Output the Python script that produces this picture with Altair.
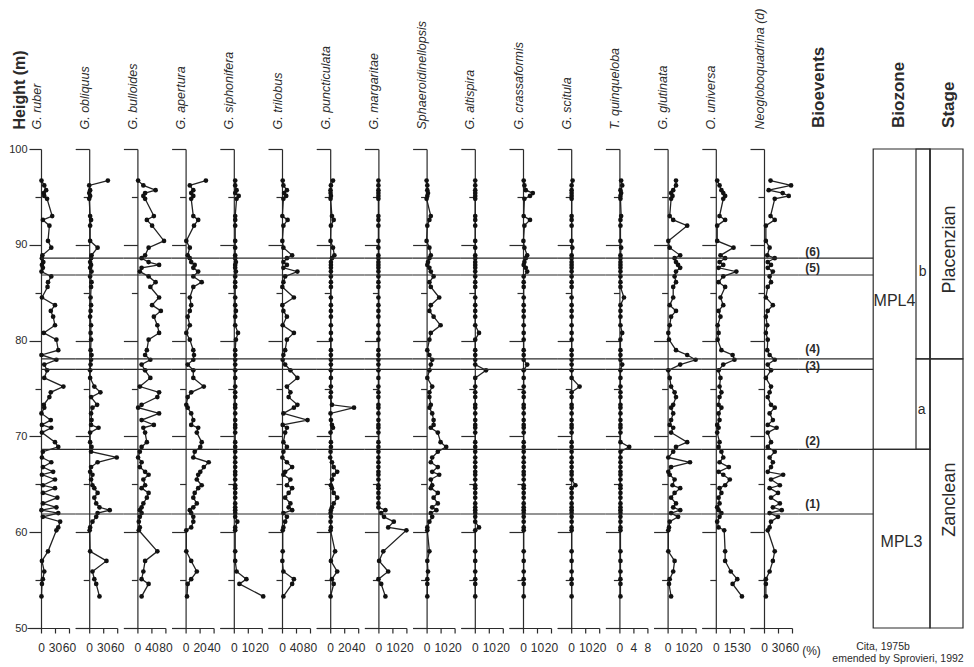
import altair as alt
import pandas as pd

# ---------------- data ----------------
HEIGHTS = [96.7, 96.2, 95.7, 95.4, 95.1, 94.8, 93.0, 92.6, 92.0, 90.4,
           89.7, 88.9, 88.6, 88.2, 87.9, 87.6, 87.2, 86.7, 86.1, 85.6,
           84.5, 83.7, 83.1, 82.5, 81.6, 80.8, 80.1, 79.0, 78.5, 78.0,
           77.5, 76.9, 76.1, 75.2, 74.6, 74.1, 73.3, 73.0, 72.4, 71.7,
           71.2, 70.9, 70.4, 69.4, 68.9, 68.4, 67.8, 67.3, 66.8, 66.3,
           66.0, 65.5, 64.9, 64.6, 64.1, 63.6, 63.0, 62.6, 62.3, 62.0,
           61.6, 61.1, 60.5, 60.2, 58.0, 57.0, 55.9, 55.1, 54.6, 53.3]

RUBER = [1, 7, 11, 6, 7, 13, 24, 4, 18, 15,
         22, 3, 2, 5, 2, 4, 1, 22, 15, 14,
         2, 30, 21, 26, 30, 6, 33, 37, 1, 33,
         7, 13, 7, 48, 21, 18, 6, 7, 1, 21,
         2, 22, 2, 30, 37, 4, 2, 22, 4, 26,
         2, 30, 4, 30, 4, 35, 4, 33, 1, 37,
         4, 41, 37, 33, 15, 2, 7, 4, 2, 1]
OBLIQUUS = [40, 0, 2, 0, 2, 0, 2, 4, 2, 2,
            18, 5, 4, 2, 4, 2, 5, 2, 5, 4,
            3, 4, 3, 2, 4, 3, 4, 3, 5, 4,
            3, 2, 2, 11, 24, 4, 17, 7, 4, 5,
            4, 20, 2, 2, 5, 4, 59, 18, 4, 2,
            7, 4, 7, 11, 18, 11, 15, 22, 44, 18,
            15, 7, 2, 1, 2, 37, 7, 11, 15, 22]
BULLOIDES = [2, 17, 52, 22, 17, 22, 47, 27, 42, 76,
             32, 22, 12, 32, 62, 12, 7, 32, 52, 37,
             62, 42, 67, 47, 57, 62, 32, 27, 22, 37,
             12, 22, 37, 7, 62, 57, 12, 2, 62, 12,
             47, 17, 22, 27, 12, 7, 2, 12, 7, 22,
             32, 17, 22, 12, 32, 27, 17, 12, 7, 12,
             7, 4, 7, 4, 57, 22, 17, 12, 32, 12]
APERTURA = [29, 6, 11, 8, 11, 8, 11, 18, 12, 1,
            6, 3, 6, 8, 13, 11, 18, 11, 23, 11,
            6, 8, 6, 3, 6, 1, 6, 11, 12, 11,
            3, 11, 11, 26, 8, 3, 1, 3, 8, 11,
            8, 18, 16, 23, 21, 13, 11, 33, 26, 21,
            18, 16, 23, 18, 13, 11, 16, 11, 6, 8,
            11, 11, 8, 1, 1, 8, 16, 8, 3, 2]
SIPHONIFERA = [1, 1, 2, 1, 3.5, 2, 1, 1, 1, 1,
               1, 1, 1, 1.5, 1, 1, 1.5, 1, 1, 1,
               1, 1, 1.5, 1, 1, 3, 1.5, 1, 1, 1,
               1, 1, 1, 1, 1, 1, 1, 1, 1, 1,
               1, 1, 1, 1, 1, 1, 1, 1, 1, 1,
               1, 1, 1, 1, 1, 1, 1, 1, 1, 1,
               1, 2.5, 1, 1, 1, 1, 2, 9, 4, 21]
TRILOBUS = [2, 4, 14, 6, 12, 4, 1, 16, 4, 1,
            4, 29, 14, 4, 14, 4, 44, 9, 4, 1,
            34, 1, 4, 14, 2, 34, 14, 9, 4, 2,
            9, 24, 44, 14, 24, 19, 44, 34, 4, 73,
            2, 14, 9, 4, 14, 4, 1, 14, 29, 9,
            4, 24, 14, 29, 19, 9, 24, 19, 29, 4,
            14, 9, 4, 2, 2, 1, 4, 34, 29, 4]
PUNCTICULATA = [4, 1, 0.5, 0.5, 1, 0.5, 2.5, 5, 1, 0.5,
                4, 6, 2.5, 1, 1, 1, 1, 1, 1, 1,
                1, 1, 1, 1, 1, 1, 1, 1, 1, 1,
                1, 1, 1, 1, 1, 0.5, 2.5, 34, 0.5, 1,
                2.5, 4, 0.5, 1, 1, 0.5, 0, 2.5, 5, 10,
                5, 2.5, 1, 2.5, 5, 10, 5, 2.5, 1, 0.5,
                1, 0.5, 1, 0.5, 7, 1, 10, 2.5, 5, 0.5]
MARGARITAE = [0, 0, 0, 0, 0, 0, 0, 0, 0, 0,
              0, 0, 0, 0, 0, 0, 0, 0, 0, 0,
              0, 0, 0, 0, 0, 0, 0, 0, 0, 0,
              0, 0, 0, 0, 0, 0, 0, 0, 0, 0,
              0, 0, 0, 0, 0, 0, 0, 0, 0, 0,
              0, 0, 0, 0, 0, 0, 0, 0, 5, 2,
              4, 11, 7, 20, 3.5, 0.5, 7, 0, 2, 5]
SPHAEROIDINELLOPSIS = [0, 0.5, 0.5, 1, 0.5, 0, 3, 2, 0.5, 0,
                       2, 3, 2, 1, 0.5, 2, 3, 5, 2, 3,
                       9, 3, 2, 5, 10, 3, 2, 0.5, 2, 4,
                       3, 2, 0.5, 4, 2, 2, 3, 2, 4, 5,
                       5, 3, 8, 10, 14, 8, 4, 3, 8, 4,
                       9, 3, 4, 3, 8, 5, 8, 4, 7, 3,
                       4, 2, 0.5, 0.5, 2, 0.5, 1, 0.5, 0.5, 0.5]
ALTISPIRA = [0.3, 0.3, 0.3, 0.3, 0.3, 0.3, 0.3, 0.3, 0.3, 0.3,
             0.3, 0.3, 0.3, 0.3, 0.3, 0.3, 0.3, 0.3, 0.3, 0.3,
             0.3, 0.3, 0.3, 0.3, 0.3, 3, 0.3, 0.3, 0.3, 0.3,
             0.3, 8, 0.3, 0.3, 0.3, 0.3, 0.3, 0.3, 0.3, 0.3,
             0.3, 0.3, 0.3, 0.3, 0.3, 0.3, 0.3, 0.3, 0.3, 0.3,
             0.3, 0.3, 0.3, 0.3, 0.3, 0.3, 0.3, 0.3, 0.3, 0.3,
             0.3, 0.3, 3, 0.3, 0.3, 0.3, 0.3, 0.3, 0.3, 0.3]
CRASSAFORMIS = [0.5, 1, 2, 7, 5, 1, 0.5, 5, 1, 0.3,
                1, 3, 2, 1, 0.5, 2, 3, 0.5, 0.5, 0.5,
                0.5, 0.5, 0.5, 0.5, 0.5, 0.5, 0.5, 0.5, 0.5, 0.5,
                3, 0.5, 0.5, 0.5, 0.5, 0.5, 0.5, 0.5, 0.5, 0.5,
                0.5, 0.5, 0.5, 0.5, 0.5, 0.5, 0.5, 0.5, 0.5, 0.5,
                0.5, 0.5, 0.5, 0.5, 0.5, 0.5, 0.5, 0.5, 0.5, 0.5,
                0.5, 0.5, 0.5, 0.5, 0.5, 0.5, 0.5, 0.5, 0.5, 0.5]
SCITULA = [1, 0.3, 0.3, 0.3, 0.3, 0.3, 0.3, 0.3, 0.3, 0.3,
           0.8, 0.3, 0.3, 0.3, 0.3, 0.3, 0.3, 0.3, 0.3, 0.3,
           0.3, 0.3, 0.3, 0.3, 0.3, 0.3, 0.3, 0.3, 0.3, 0.3,
           0.3, 0.3, 0.3, 6, 0.3, 0.3, 0.3, 0.3, 0.3, 0.3,
           0.3, 0.3, 0.3, 0.3, 0.3, 0.3, 0.3, 0.3, 0.3, 0.3,
           0.3, 0.3, 3, 0.3, 0.3, 0.3, 0.3, 0.3, 0.3, 0.3,
           0.3, 0.3, 0.3, 0.3, 0.3, 0.3, 0.3, 0.3, 0.3, 0.3]
QUINQUELOBA = [0.5, 0.8, 0.3, 0.5, 0.3, 0.3, 0.5, 0.3, 0.3, 0.3,
               0.5, 0.3, 0.3, 0.3, 0.3, 0.3, 0.3, 0.3, 0.3, 0.3,
               1.3, 0.3, 0.3, 0.3, 0.3, 0.8, 0.3, 0.3, 0.3, 0.3,
               0.8, 0.3, 0.3, 0.3, 0.3, 0.3, 0.3, 0.3, 0.3, 0.3,
               0.3, 0.3, 0.3, 0.3, 2.8, 0.3, 0.3, 0.3, 0.3, 0.3,
               0.3, 0.3, 0.3, 0.3, 0.3, 0.3, 0.3, 0.3, 0.3, 0.3,
               0.3, 0.3, 0.3, 0.3, 0.3, 0.3, 0.3, 0.3, 0.3, 0.3]
GLUTINATA = [6, 6, 4, 2.5, 3.5, 2.5, 1.5, 4, 14, 0.5,
             1.5, 9, 5, 6, 7.5, 9, 6, 5, 6, 4,
             4, 1.5, 6, 2.5, 1.5, 0.5, 1, 6, 14, 20,
             9, 0.5, 1.5, 2.5, 5, 6, 4, 2.5, 4, 2.5,
             1.5, 4, 2.5, 14, 6, 4, 0.5, 16, 2.5, 0.5,
             1.5, 5, 3.5, 9, 5, 2.5, 6, 4, 9, 2.5,
             7.5, 1.5, 1, 0.5, 0.5, 5, 4, 1.5, 1, 2.5]
UNIVERSA = [1.5, 4, 6, 8, 10, 8, 4, 10, 1.5, 1.5,
            19, 5, 10, 4, 8, 3, 22, 8, 3, 10,
            5, 8, 3, 5, 2, 3, 2, 6, 18, 20,
            8, 3, 5, 4, 6, 4, 3, 6, 3, 4,
            1.5, 3, 1.5, 4, 3, 6, 8, 4, 14, 3,
            8, 15, 10, 4, 6, 3, 4, 1.5, 3, 6,
            4, 1.5, 3, 9, 10, 10, 16, 23, 18, 28]
NEOGLOBOQUADRINA = [14, 58, 10, 40, 53, 23, 14, 23, 4, 4,
                    12, 7, 23, 8, 15, 8, 19, 12, 15, 8,
                    4, 19, 8, 4, 7, 4, 8, 7, 12, 23,
                    8, 15, 4, 15, 12, 8, 15, 23, 12, 19,
                    8, 27, 8, 15, 8, 23, 12, 19, 15, 8,
                    41, 15, 34, 12, 30, 15, 34, 19, 38, 12,
                    30, 15, 12, 8, 23, 19, 12, 4, 4, 4]

SPECIES = ["G. ruber", "G. obliquus", "G. bulloides", "G. apertura",
           "G. siphonifera", "G. trilobus", "G. puncticulata", "G. margaritae",
           "Sphaeroidinellopsis", "G. altispira", "G. crassaformis", "G. scitula",
           "T. quinqueloba", "G. glutinata", "O. universa", "Neogloboquadrina (d)"]
SERIES = [RUBER, OBLIQUUS, BULLOIDES, APERTURA, SIPHONIFERA, TRILOBUS,
          PUNCTICULATA, MARGARITAE, SPHAEROIDINELLOPSIS, ALTISPIRA,
          CRASSAFORMIS, SCITULA, QUINQUELOBA, GLUTINATA, UNIVERSA, NEOGLOBOQUADRINA]
TICK_MAX = [60, 60, 80, 40, 20, 80, 40, 20, 20, 20, 20, 20, 8, 20, 30, 60]

EVENT_H = [61.9, 68.65, 77.0, 78.1, 86.85, 88.6]
EVENT_LABELS = ["(1)", "(2)", "(3)", "(4)", "(5)", "(6)"]
EVENT_LABEL_H = [62.95, 69.5, 77.35, 79.1, 87.6, 89.2]

ZONE_NAMES = ["MPL4", "MPL3"]
ZONE_TOP = [100, 68.65]
ZONE_BOTTOM = [68.65, 50]
SUBZONE_NAMES = ["b", "a"]
SUBZONE_TOP = [100, 78.1]
SUBZONE_BOTTOM = [78.1, 68.65]
STAGE_NAMES = ["Placenzian", "Zanclean"]
STAGE_TOP = [100, 78.1]
STAGE_BOTTOM = [78.1, 50]

HEADERS = ["Bioevents", "Biozone", "Stage"]
CITATION = ["Cita, 1975b", "emended by Sprovieri, 1992"]

# ---------------- layout / style ----------------
FONT = "Liberation Sans"
INK = "#2b2b2b"
W, HP, SP = 42, 479, 6.2
ZERO = 14          # pixel position of the zero line inside a species panel
FW = 165           # width of the bioevents/biozone/stage panel
EV_LABEL_X = 14.5
BZ_X0, SUB_X0, ST_X0, ST_X1 = 75, 117.8, 131.8, 164.8
HEADER_X = [20.8, 100.8, 150.8]
HEADER_Y = 102.2
ZONE_LX, ZONE_LY = [96.3, 103.3], [84.1, 59.0]
SUB_LX, SUB_LY = [124.5, 123.5], [87.2, 72.8]
STAGE_LX, STAGE_LY = [151.8, 151.8], [89.5, 63.4]
CIT_X, CIT_Y = [84.8, 99.8], [48.0, 46.8]

yscale = alt.Scale(domain=[50, 100], nice=False, zero=False)


def species_panel(i, name, vals, m):
    df = pd.DataFrame({"h": HEIGHTS, "v": vals})
    if i == len(SPECIES) - 1:
        xtitle = dict(title="(%)", titleX=61, titleY=22, titleAngle=0,
                      titleAlign="center", titleBaseline="middle",
                      titleFontWeight="normal", titleFontSize=12, titleColor=INK)
    else:
        xtitle = dict(title=None)
    xaxis = alt.Axis(values=[0, m // 2, m], format="d", labelOverlap=False,
                     labelFlush=False, tickSize=5, tickColor=INK, tickWidth=1.2,
                     domainColor=INK, domainWidth=1.2, labelFontSize=12,
                     labelColor=INK, labelPadding=9, grid=False, **xtitle)
    xenc = alt.X("v:Q", scale=alt.Scale(domain=[-m / 2, m], nice=False, zero=False),
                 axis=xaxis)

    if i == 0:
        mtitle = dict(title="Height (m)", titleX=-22, titleY=-20, titleAngle=270,
                      titleAlign="left", titleBaseline="middle", titleFontSize=16,
                      titleFontWeight="bold", titleColor=INK)
    else:
        mtitle = dict(title=None)
    major = alt.Axis(values=[50, 60, 70, 80, 90, 100], orient="left", offset=-ZERO,
                     tickSize=12 if i == 0 else 14, labels=(i == 0), labelFontSize=11,
                     labelPadding=2, labelColor=INK, format="d", domainColor=INK,
                     domainWidth=1.2, tickColor=INK, tickWidth=1.2, grid=False, **mtitle)
    minor = alt.Axis(values=[55, 65, 75, 85, 95], orient="left", offset=-ZERO,
                     tickSize=6, labels=False, domain=False, tickColor=INK,
                     tickWidth=1.2, grid=False, title=name, titleX=-5, titleY=-20,
                     titleAngle=270, titleAlign="left", titleBaseline="middle",
                     titleFontStyle="italic", titleFontWeight="normal",
                     titleFontSize=12.5, titleColor=INK)

    line = alt.Chart(df).mark_line(color="#222222", strokeWidth=1.3).encode(
        x=xenc, y=alt.Y("h:Q", scale=yscale, axis=major), order=alt.Order("h:Q"))
    pts = alt.Chart(df).mark_circle(color="#111111", size=22, opacity=1).encode(
        x=xenc, y=alt.Y("h:Q", scale=yscale, axis=minor))
    ev = pd.DataFrame({"h": EVENT_H})
    rules = alt.Chart(ev).mark_rule(color=INK, strokeWidth=1.2).encode(
        y=alt.Y("h:Q", scale=yscale, axis=None),
        x=alt.value(ZERO if i == 0 else 0), x2=alt.value(W + SP))
    return alt.layer(line, pts, rules).resolve_axis(y="independent").properties(
        width=W, height=HP)


panels = [species_panel(i, n, s, m) for i, (n, s, m) in
          enumerate(zip(SPECIES, SERIES, TICK_MAX))]

# ---------------- bioevents / biozone / stage panel ----------------
fx = alt.Scale(domain=[0, FW], nice=False, zero=False)
X = lambda f: alt.X(f, scale=fx, axis=None)
Y = lambda f: alt.Y(f, scale=yscale, axis=None)

ev_df = pd.DataFrame({"h": EVENT_H, "lab": EVENT_LABELS, "lh": EVENT_LABEL_H})
ev_df["x0"] = 0
ev_df["x1"] = BZ_X0
ev_df["lx"] = EV_LABEL_X
ev_rules = alt.Chart(ev_df).mark_rule(color=INK, strokeWidth=1.2).encode(
    x=X("x0:Q"), x2="x1:Q", y=Y("h:Q"))
ev_text = alt.Chart(ev_df).mark_text(fontSize=12, fontWeight="bold", color=INK,
                                     baseline="middle").encode(
    x=X("lx:Q"), y=Y("lh:Q"), text="lab:N")

boxes = pd.DataFrame({
    "x": [BZ_X0, BZ_X0, SUB_X0, SUB_X0, ST_X0, ST_X0],
    "x2": [ST_X0, ST_X0, ST_X0, ST_X0, ST_X1, ST_X1],
    "y": ZONE_BOTTOM + SUBZONE_BOTTOM + STAGE_BOTTOM,
    "y2": ZONE_TOP + SUBZONE_TOP + STAGE_TOP,
})
box_marks = alt.Chart(boxes).mark_rect(filled=False, color=INK, strokeWidth=1.2).encode(
    x=X("x:Q"), x2="x2:Q", y=Y("y:Q"), y2="y2:Q")

zone_txt = alt.Chart(pd.DataFrame({"t": ZONE_NAMES, "x": ZONE_LX, "y": ZONE_LY})).mark_text(
    fontSize=16, color=INK).encode(x=X("x:Q"), y=Y("y:Q"), text="t:N")
sub_txt = alt.Chart(pd.DataFrame({"t": SUBZONE_NAMES, "x": SUB_LX, "y": SUB_LY})).mark_text(
    fontSize=14, color=INK).encode(x=X("x:Q"), y=Y("y:Q"), text="t:N")
stage_txt = alt.Chart(pd.DataFrame({"t": STAGE_NAMES, "x": STAGE_LX, "y": STAGE_LY})).mark_text(
    fontSize=18, color=INK, angle=270).encode(x=X("x:Q"), y=Y("y:Q"), text="t:N")
head_df = pd.DataFrame({"t": HEADERS, "x": HEADER_X})
head_df["y"] = HEADER_Y
head_txt = alt.Chart(head_df).mark_text(
    fontSize=17, fontWeight="bold", color=INK, angle=270, align="left",
    baseline="middle").encode(x=X("x:Q"), y=Y("y:Q"), text="t:N")
cit_txt = alt.Chart(pd.DataFrame({"t": CITATION, "x": CIT_X, "y": CIT_Y})).mark_text(
    fontSize=10.5, color=INK).encode(x=X("x:Q"), y=Y("y:Q"), text="t:N")

final = alt.layer(ev_rules, ev_text, box_marks, zone_txt, sub_txt, stage_txt,
                  head_txt, cit_txt).properties(width=FW, height=HP)

chart = alt.hconcat(*panels, final, spacing=SP, bounds="flush").properties(
    padding={"left": 0, "top": 0, "right": 0, "bottom": 0}
).configure(font=FONT).configure_view(stroke=None)

chart.save("out.html", embed_options={"renderer": "svg", "actions": False})
